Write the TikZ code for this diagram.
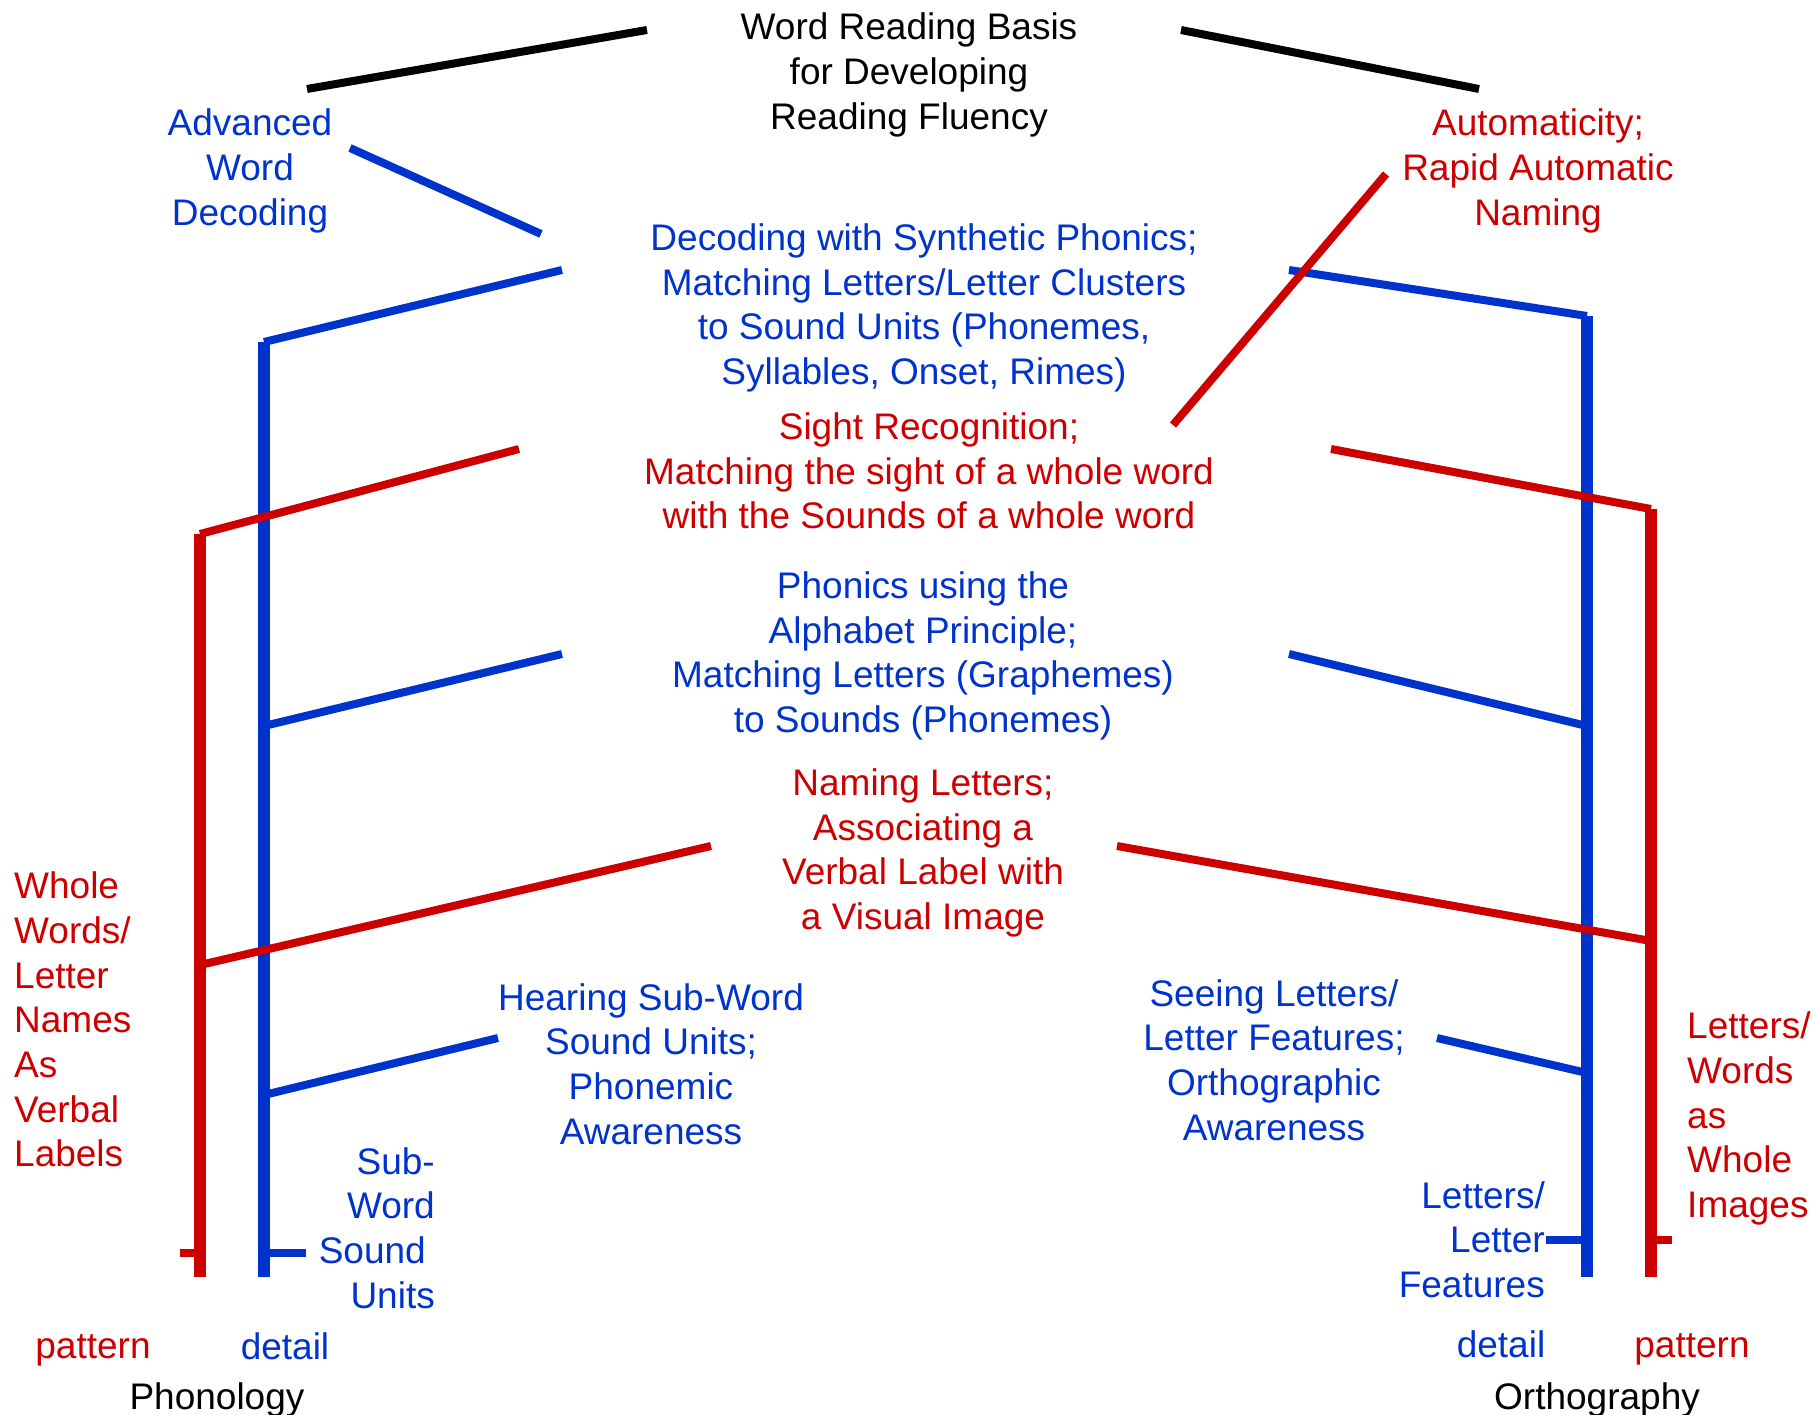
\documentclass[tikz,border=0pt]{standalone}
\usepackage{fontspec}
\setmainfont{Liberation Sans}
\definecolor{dblue}{RGB}{0,51,204}
\definecolor{dred}{RGB}{204,0,0}
\begin{document}
\begin{tikzpicture}[x=1pt,y=-1pt,
  lbl/.style={inner sep=0pt,align=center,font=\fontsize{37}{44.7}\selectfont},
  lblL/.style={lbl,align=left},
  lblR/.style={lbl,align=right},
  bar/.style={line width=11.5pt,line cap=butt},
  link/.style={line width=8pt,line cap=butt}]
\useasboundingbox (0,0) rectangle (1816,1415);

% ---- texts ----
\node[lbl,text=black] (title) at (909,75) {Word Reading Basis\\for Developing\\Reading Fluency};
\node[lbl,text=dblue] (awd) at (250,171) {Advanced\\Word\\Decoding};
\node[lbl,text=dred] (ran) at (1538,171) {Automaticity;\\Rapid Automatic\\Naming};
\node[lbl,text=dblue] (synth) at (924,308) {Decoding with Synthetic Phonics;\\Matching Letters/Letter Clusters\\to Sound Units (Phonemes,\\Syllables, Onset, Rimes)};
\node[lbl,text=dred] (sight) at (929,471) {Sight Recognition;\\Matching the sight of a whole word\\with the Sounds of a whole word};
\node[lbl,text=dblue] (alpha) at (923,656) {Phonics using the\\Alphabet Principle;\\Matching Letters (Graphemes)\\to Sounds (Phonemes)};
\node[lbl,text=dred] (naming) at (923,853) {Naming Letters;\\Associating a\\Verbal Label with\\a Visual Image};
\node[lblL,text=dred,anchor=west] (whole) at (14,1019.5) {Whole\\Words/\\Letter\\Names\\As\\Verbal\\Labels};
\node[lbl,text=dblue] (hear) at (651,1064) {Hearing Sub-Word\\Sound Units;\\Phonemic\\Awareness};
\node[lbl,text=dblue] (see) at (1274,1060) {Seeing Letters/\\Letter Features;\\Orthographic\\Awareness};
\node[lblR,text=dblue,anchor=east] (subword) at (435,1228) {Sub-\\Word\\Sound\rule{9pt}{0pt}\\Units};
\node[lblR,text=dblue,anchor=east] (letfeat) at (1545,1239.5) {Letters/\\Letter\\Features};
\node[lblL,text=dred,anchor=west] (images) at (1687,1118.5) {Letters/\\Words\\as\\Whole\\Images};
\node[lbl,text=dred] (patL) at (93,1350.5) {pattern};
\node[lbl,text=dblue] (detL) at (285,1346) {detail};
\node[lbl,text=black] (phon) at (217,1399.5) {Phonology};
\node[lbl,text=dblue] (detR) at (1501,1344) {detail};
\node[lbl,text=dred] (patR) at (1692,1349.5) {pattern};
\node[lbl,text=black] (orth) at (1597,1399.5) {Orthography};

% ---- end points ----
\coordinate (tl1) at (307,89);   \coordinate (tl2) at (647,30);
\coordinate (tr1) at (1181,30);  \coordinate (tr2) at (1479,89);
\coordinate (aw1) at (350,148);  \coordinate (aw2) at (541,234);
\coordinate (ra1) at (1386,174); \coordinate (ra2) at (1173,425);
% phonology detail column (blue)
\coordinate (bL) at (264,342);   \coordinate (bLe) at (264,1277);
\coordinate (s1) at (562,270);
\coordinate (a1) at (562,654);   \coordinate (a2) at (264,726);
\coordinate (h1) at (498,1038);  \coordinate (h2) at (264,1095);
\coordinate (tbL) at (306,1253); \coordinate (tbL0) at (264,1253);
% phonology pattern column (red)
\coordinate (rL) at (200,534);   \coordinate (rLe) at (200,1277);
\coordinate (g1) at (519,449);
\coordinate (n1) at (711,846);   \coordinate (n2) at (200,965);
\coordinate (trL) at (180,1253); \coordinate (trL0) at (200,1253);
% orthography detail column (blue)
\coordinate (bR) at (1587,316);  \coordinate (bRe) at (1587,1277);
\coordinate (s2) at (1289,270);
\coordinate (a3) at (1289,654);  \coordinate (a4) at (1587,726);
\coordinate (e1) at (1437,1038); \coordinate (e2) at (1587,1073);
\coordinate (tbR) at (1546,1240); \coordinate (tbR0) at (1587,1240);
% orthography pattern column (red)
\coordinate (rR) at (1651,509);  \coordinate (rRe) at (1651,1277);
\coordinate (g2) at (1331,449);
\coordinate (n3) at (1117,846);  \coordinate (n4) at (1651,941);
\coordinate (trR) at (1672,1240); \coordinate (trR0) at (1651,1240);

% ---- connectors ----
\draw[link,black] (tl1) -- (tl2);
\draw[link,black] (tr1) -- (tr2);
\draw[link,dblue] (aw1) -- (aw2);

\draw[bar,dblue] (bL) -- (bLe);
\draw[bar,dred] (rL) -- (rLe);
\draw[bar,dblue] (bR) -- (bRe);
\draw[bar,dred] (rR) -- (rRe);

\draw[link,dblue] (s1) -- (bL);
\draw[link,dblue] (a1) -- (a2);
\draw[link,dblue] (h1) -- (h2);
\draw[link,dblue] (s2) -- (bR);
\draw[link,dblue] (a3) -- (a4);
\draw[link,dblue] (e1) -- (e2);
\draw[link,dred] (g1) -- (rL);
\draw[link,dred] (n1) -- (n2);
\draw[link,dred] (g2) -- (rR);
\draw[link,dred] (n3) -- (n4);
\draw[link,dred] (ra1) -- (ra2);

\draw[link,dblue] (tbL0) -- (tbL);
\draw[link,dred] (trL0) -- (trL);
\draw[link,dblue] (tbR0) -- (tbR);
\draw[link,dred] (trR0) -- (trR);
\end{tikzpicture}
\end{document}
